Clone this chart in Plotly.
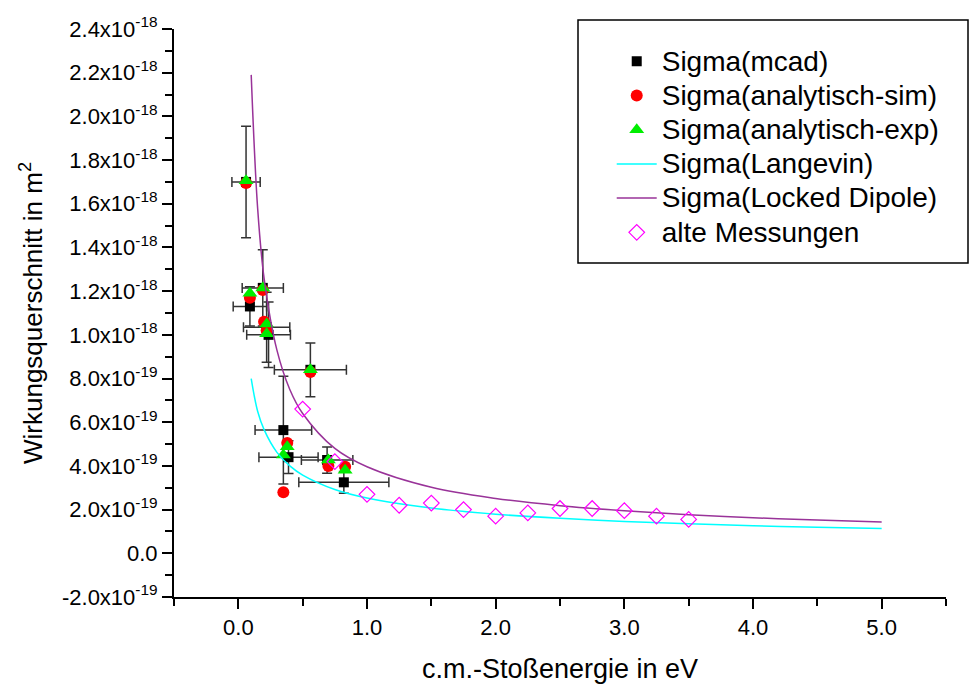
import plotly.graph_objects as go

# ---------------- data (cross sections in m^2, energies in eV) ----------------
mcad_x = [0.06, 0.09, 0.19, 0.22, 0.235, 0.56, 0.35, 0.39, 0.69, 0.82]
mcad_y = [1.70e-18, 1.13e-18, 1.215e-18, 1.035e-18, 1.00e-18, 8.4e-19, 5.64e-19, 4.4e-19, 4.27e-19, 3.25e-19]
mcad_xerr = [0.11, 0.13, 0.16, 0.18, 0.17, 0.28, 0.22, 0.23, 0.20, 0.35]
mcad_yerr = [2.55e-19, 0.9e-19, 1.75e-19, 1.6e-19, 1.5e-19, 1.23e-19, 2.47e-19, 0.75e-19, 0.6e-19, 0.5e-19]

sim_x = [0.06, 0.09, 0.19, 0.20, 0.22, 0.56, 0.38, 0.35, 0.70, 0.83]
sim_y = [1.695e-18, 1.17e-18, 1.205e-18, 1.06e-18, 1.02e-18, 8.3e-19, 5.05e-19, 2.8e-19, 4.0e-19, 3.96e-19]

exp_x = [0.06, 0.09, 0.19, 0.22, 0.22, 0.56, 0.38, 0.35, 0.70, 0.83]
exp_y = [1.705e-18, 1.19e-18, 1.215e-18, 1.05e-18, 1.005e-18, 8.4e-19, 4.88e-19, 4.5e-19, 4.27e-19, 3.8e-19]

curve_x = [0.1, 0.15, 0.2, 0.3, 0.4, 0.5, 0.75, 1.0, 1.5, 2.0, 2.5, 3.0, 3.5, 4.0, 4.5, 5.0]
langevin_y = [8.0e-19, 6.5e-19, 5.66e-19, 4.62e-19, 4.0e-19, 3.58e-19, 2.92e-19, 2.53e-19,
              2.07e-19, 1.79e-19, 1.6e-19, 1.46e-19, 1.35e-19, 1.26e-19, 1.19e-19, 1.13e-19]
dipole_y = [2.19e-18, 1.58e-18, 1.26e-18, 9.3e-19, 7.5e-19, 6.4e-19, 4.8e-19, 3.96e-19,
            3.02e-19, 2.51e-19, 2.18e-19, 1.95e-19, 1.77e-19, 1.63e-19, 1.52e-19, 1.43e-19]

alt_x = [0.5, 0.75, 1.0, 1.25, 1.5, 1.75, 2.0, 2.25, 2.5, 2.75, 3.0, 3.25, 3.5]
alt_y = [6.6e-19, 4.2e-19, 2.7e-19, 2.2e-19, 2.3e-19, 2.0e-19, 1.7e-19, 1.85e-19,
         2.05e-19, 2.05e-19, 1.95e-19, 1.7e-19, 1.55e-19]

series_names = ["Sigma(mcad)", "Sigma(analytisch-sim)", "Sigma(analytisch-exp)",
                "Sigma(Langevin)", "Sigma(Locked Dipole)", "alte Messungen"]

y_tickvals = [-2e-19, 0, 2e-19, 4e-19, 6e-19, 8e-19, 1.0e-18, 1.2e-18, 1.4e-18, 1.6e-18,
              1.8e-18, 2.0e-18, 2.2e-18, 2.4e-18]
y_ticktext = ["-2.0x10<sup>-19</sup>", "0.0", "2.0x10<sup>-19</sup>", "4.0x10<sup>-19</sup>",
              "6.0x10<sup>-19</sup>", "8.0x10<sup>-19</sup>", "1.0x10<sup>-18</sup>",
              "1.2x10<sup>-18</sup>", "1.4x10<sup>-18</sup>", "1.6x10<sup>-18</sup>",
              "1.8x10<sup>-18</sup>", "2.0x10<sup>-18</sup>", "2.2x10<sup>-18</sup>",
              "2.4x10<sup>-18</sup>"]
x_tickvals = [0, 1, 2, 3, 4, 5]
x_ticktext = ["0.0", "1.0", "2.0", "3.0", "4.0", "5.0"]

FONT = "Arial, Liberation Sans, sans-serif"


def lname(s):
    return '<span style="font-size:28px">' + s + '</span>'


fig = go.Figure()

fig.add_trace(go.Scatter(
    x=mcad_x, y=mcad_y, mode="markers", name=lname(series_names[0]),
    marker=dict(symbol="square", size=10, color="black"),
    error_x=dict(type="data", array=mcad_xerr, color="#333333", thickness=1.5, width=5),
    error_y=dict(type="data", array=mcad_yerr, color="#333333", thickness=1.5, width=5),
    legendgroup="a"))
fig.add_trace(go.Scatter(
    x=sim_x, y=sim_y, mode="markers", name=lname(series_names[1]),
    marker=dict(symbol="circle", size=12, color="#ff0000"), legendgroup="b"))
fig.add_trace(go.Scatter(
    x=exp_x, y=exp_y, mode="markers", name=lname(series_names[2]),
    marker=dict(symbol="triangle-up", size=13, color="#00ee00"), legendgroup="c"))
fig.add_trace(go.Scatter(
    x=curve_x, y=langevin_y, mode="lines", name=lname(series_names[3]),
    line=dict(color="#00ffff", width=1.5, shape="spline"), legendgroup="d"))
fig.add_trace(go.Scatter(
    x=curve_x, y=dipole_y, mode="lines", name=lname(series_names[4]),
    line=dict(color="#993399", width=1.5, shape="spline"), legendgroup="e"))
fig.add_trace(go.Scatter(
    x=alt_x, y=alt_y, mode="markers", name=lname(series_names[5]),
    marker=dict(symbol="diamond-open", size=12, color="#ff00ff", line=dict(width=1.2)),
    legendgroup="f"))

fig.update_layout(
    width=970, height=684,
    margin=dict(l=174, r=24, t=29, b=87),
    paper_bgcolor="white", plot_bgcolor="white",
    font=dict(family=FONT, color="black", size=22),
    showlegend=True,
    legend=dict(x=0.567, y=0.982, xanchor="left", yanchor="top",
                bgcolor="rgba(0,0,0,0)", borderwidth=0,
                font=dict(family=FONT, size=24, color="black"),
                tracegroupgap=0, itemwidth=40),
    xaxis=dict(range=[-0.5, 5.5], showline=True, linecolor="black", linewidth=2,
               ticks="outside", ticklen=10, tickwidth=2, tickcolor="black",
               tickvals=x_tickvals, ticktext=x_ticktext,
               minor=dict(tickmode="linear", tick0=0.5, dtick=1, ticks="outside",
                          ticklen=7, tickwidth=2, tickcolor="black"),
               showgrid=False, zeroline=False, automargin=False,
               tickfont=dict(size=22),
               title=dict(text="c.m.-Stoßenergie in eV", font=dict(size=27), standoff=26)),
    yaxis=dict(range=[-2e-19, 2.4e-18], showline=True, linecolor="black", linewidth=2,
               ticks="outside", ticklen=10, tickwidth=2, tickcolor="black",
               tickvals=y_tickvals, ticktext=y_ticktext,
               minor=dict(tickmode="linear", tick0=-1e-19, dtick=2e-19, ticks="outside",
                          ticklen=7, tickwidth=2, tickcolor="black"),
               showgrid=False, zeroline=False, automargin=False,
               tickfont=dict(size=22),
               title=dict(text="Wirkungsquerschnitt in m<sup>2</sup>", font=dict(size=26), standoff=12)),
    shapes=[dict(type="rect", xref="paper", yref="paper",
                 x0=(578 - 174) / 772, x1=(968 - 174) / 772,
                 y0=(597 - 263) / 568, y1=(597 - 20) / 568,
                 line=dict(color="black", width=1.5), fillcolor="rgba(0,0,0,0)", layer="above")],
)

fig.write_html("out.html")
